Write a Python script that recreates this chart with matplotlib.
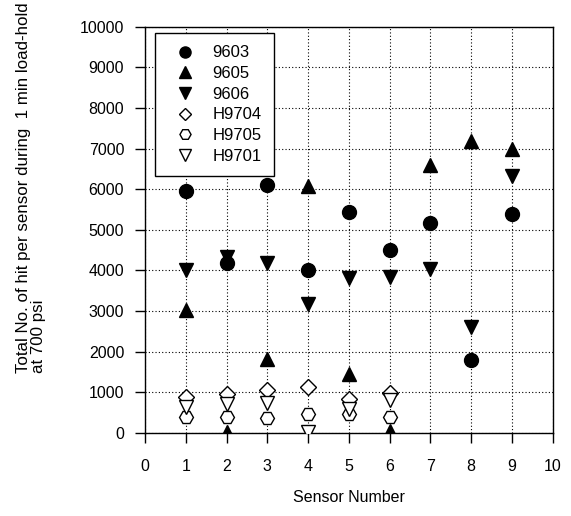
import matplotlib
matplotlib.use("Agg")
import matplotlib.pyplot as plt

sensors = [1, 2, 3, 4, 5, 6, 7, 8, 9]
s9603 = [5950, 4190, 6110, 4010, 5440, 4500, 5170, 1800, 5390]
s9605 = [3030, 20, 1820, 6080, 1450, 50, 6600, 7190, 7000]
s9606 = [4010, 4330, 4180, 3180, 3820, 3850, 4030, 2610, 6330]
h_sensors = [1, 2, 3, 4, 5, 6]
h9704 = [880, 950, 1060, 1120, 840, 980]
h9705 = [400, 400, 370, 460, 470, 400]
h9701 = [650, 720, 730, 30, 590, 820]

xticks = list(range(0, 11))
yticks = list(range(0, 10001, 1000))

plt.rcParams['font.family'] = ['Liberation Sans', 'DejaVu Sans']
fig = plt.figure(figsize=(5.71, 5.16), dpi=100)
ax = fig.add_axes([0.254, 0.161, 0.714, 0.787])

ax.plot(sensors, s9603, 'o', color='black', markersize=10, label='9603', zorder=3)
ax.plot(sensors, s9605, '^', color='black', markersize=10, label='9605', zorder=3)
ax.plot(sensors, s9606, 'v', color='black', markersize=10, label='9606', zorder=3)
ax.plot(h_sensors, h9704, 'D', markerfacecolor='white', markeredgecolor='black', markersize=8, markeredgewidth=1.0, label='H9704', zorder=3)
ax.plot(h_sensors, h9705, 'H', markerfacecolor='white', markeredgecolor='black', markersize=10, markeredgewidth=1.0, label='H9705', zorder=3)
ax.plot(h_sensors, h9701, 'v', markerfacecolor='white', markeredgecolor='black', markersize=10, markeredgewidth=1.0, label='H9701', zorder=3)

ax.set_xlim(0, 10)
ax.set_ylim(0, 10000)
ax.set_xticks(xticks)
ax.set_yticks(yticks)
ax.tick_params(direction='out', length=7, width=1, labelsize=11.5, colors='black')
ax.tick_params(axis='x', pad=12)
ax.tick_params(axis='y', pad=8)
ax.grid(True, linestyle=(0, (1, 2)), color='black', linewidth=0.8)
for sp in ax.spines.values():
    sp.set_linewidth(1.0)

ax.set_xlabel('Sensor Number', fontsize=11.5, labelpad=11)
fig.text(0.054, 1 - 373 / 516, 'Total No. of hit per sensor during  1 min load-hold\nat 700 psi',
         rotation=90, ha='center', va='bottom', multialignment='left', fontsize=12.2,
         linespacing=1.0)

leg = ax.legend(loc='upper left', bbox_to_anchor=(0.025, 0.985), borderaxespad=0,
                frameon=True, fancybox=False, edgecolor='black', fontsize=12,
                handletextpad=0.6, labelspacing=0.34, borderpad=0.75,
                handlelength=2.1, markerscale=0.8)
leg.get_frame().set_linewidth(1.0)
leg.get_frame().set_alpha(1)

fig.savefig('out.png', dpi=100)
